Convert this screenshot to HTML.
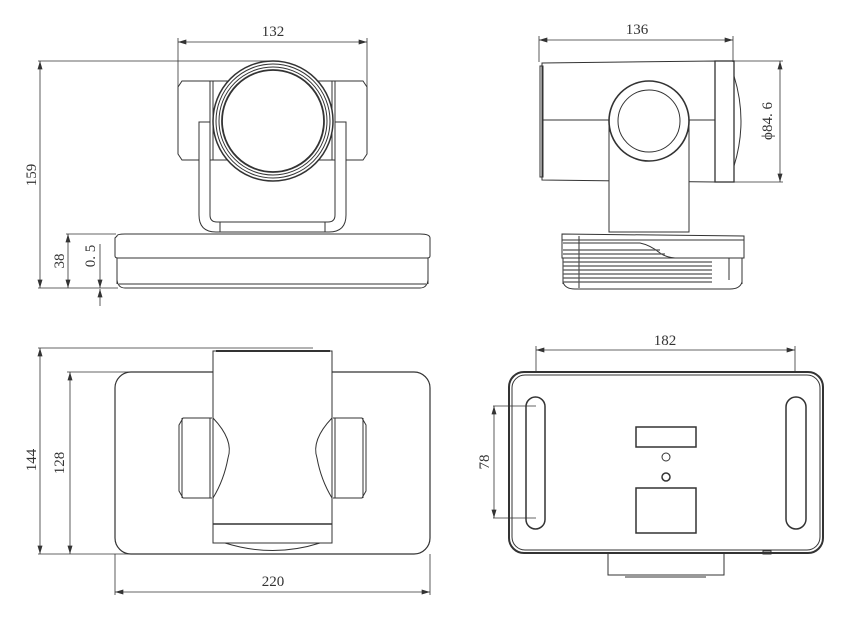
<!DOCTYPE html>
<html><head><meta charset="utf-8"><style>
html,body{margin:0;padding:0;background:#fff;}
svg{display:block;}
text{font-family:"Liberation Serif",serif;font-size:15px;fill:#333;}
</style></head><body>
<svg width="860" height="620" viewBox="0 0 860 620" xmlns="http://www.w3.org/2000/svg">
<defs>
<marker id="a" viewBox="0 0 10 6" refX="10" refY="3" markerWidth="9" markerHeight="5" orient="auto-start-reverse" markerUnits="userSpaceOnUse"><path d="M0,0 L10,3 L0,6 z" fill="#333"/></marker>
</defs>
<g fill="none" stroke="#333" stroke-width="1">
<!-- ===== TOP LEFT: front view ===== -->
<line x1="178" y1="38" x2="178" y2="150" stroke-width="0.8"/>
<line x1="367" y1="38" x2="367" y2="90" stroke-width="0.8"/>
<line x1="178" y1="42" x2="367" y2="42" stroke-width="0.8" marker-start="url(#a)" marker-end="url(#a)"/>
<line x1="38" y1="61" x2="272" y2="61" stroke-width="0.8"/>
<line x1="40" y1="61" x2="40" y2="288" stroke-width="0.8" marker-start="url(#a)" marker-end="url(#a)"/>
<line x1="38" y1="288" x2="118" y2="288" stroke-width="0.8"/>
<line x1="66" y1="234" x2="116" y2="234" stroke-width="0.8"/>
<line x1="68" y1="234" x2="68" y2="288" stroke-width="0.8" marker-start="url(#a)" marker-end="url(#a)"/>
<line x1="100" y1="244" x2="100" y2="288" stroke-width="0.8" marker-end="url(#a)"/>
<line x1="100" y1="306" x2="100" y2="289" stroke-width="0.8" marker-end="url(#a)"/>
<!-- side blocks -->
<path d="M182,81 L210,81 L210,160 L182,160 L178,154 L178,87 Z"/>
<path d="M363,81 L335,81 L335,160 L363,160 L367,154 L367,87 Z"/>
<rect x="210" y="81" width="125" height="79"/>
<line x1="213" y1="81" x2="213" y2="160"/>
<line x1="332" y1="81" x2="332" y2="160"/>
<!-- bracket -->
<path d="M199,122 L210,122 L210,215 Q210,222 217,222 L328,222 Q335,222 335,215 L335,122 L346,122 L346,215 Q346,232 329,232 L216,232 Q199,232 199,215 Z" fill="#fff"/>
<line x1="220" y1="222" x2="220" y2="232"/>
<line x1="325" y1="222" x2="325" y2="232"/>
<!-- lens -->
<circle cx="273" cy="121" r="60" fill="#fff" stroke-width="1.5"/>
<circle cx="273" cy="121" r="57"/>
<circle cx="273" cy="121" r="54"/>
<circle cx="273" cy="121" r="51" stroke-width="1.8"/>
<!-- base -->
<path d="M117,236 Q117,234 125,234 L420,234 Q430,234 430,238 L430,256 Q430,258 427,258 L118,258 Q115,258 115,256 L115,238 Z"/>
<line x1="117" y1="258" x2="117" y2="284"/>
<line x1="428" y1="258" x2="428" y2="284"/>
<path d="M117,280 Q118,288 125,288 L420,288 Q427,288 428,280"/>
<line x1="119" y1="284" x2="426" y2="284"/>
<!-- ===== TOP RIGHT: side view ===== -->
<line x1="539" y1="36" x2="539" y2="62" stroke-width="0.8"/>
<line x1="733" y1="36" x2="733" y2="62" stroke-width="0.8"/>
<line x1="539" y1="40" x2="733" y2="40" stroke-width="0.8" marker-start="url(#a)" marker-end="url(#a)"/>
<line x1="734" y1="61" x2="783" y2="61" stroke-width="0.8"/>
<line x1="734" y1="182" x2="783" y2="182" stroke-width="0.8"/>
<line x1="780" y1="61" x2="780" y2="182" stroke-width="0.8" marker-start="url(#a)" marker-end="url(#a)"/>
<path d="M542,63 L715,61 L715,182 L542,180 Z"/>
<rect x="540" y="66" width="3" height="111"/>
<line x1="542" y1="120" x2="715" y2="120"/>
<rect x="715" y="61" width="19" height="121" stroke-width="1.3"/>
<path d="M734,76 Q748,121 734,166"/>
<rect x="609" y="120" width="80" height="112" fill="#fff"/>
<circle cx="649" cy="121" r="40" fill="#fff" stroke-width="1.6"/>
<circle cx="649" cy="121" r="31"/>
<!-- base -->
<path d="M562,234 L744,236 L744,258 L562,258 Z"/>
<line x1="562" y1="240" x2="744" y2="240"/>
<path d="M563,243 L640,243 Q650,245 660,253 Q665,257 675,258"/>
<line x1="563" y1="258" x2="563" y2="284"/>
<line x1="742" y1="258" x2="742" y2="284"/>
<line x1="729" y1="258" x2="729" y2="280"/>
<line x1="579" y1="236" x2="579" y2="288"/>
<path d="M563,282 Q565,289 575,289 L730,289 Q740,289 742,282"/>
<g stroke="#555" stroke-width="1.2">
<line x1="563" y1="250" x2="660" y2="250"/><line x1="563" y1="254" x2="665" y2="254"/>
<line x1="563" y1="262" x2="712" y2="262"/><line x1="563" y1="266" x2="712" y2="266"/>
<line x1="563" y1="270" x2="712" y2="270"/><line x1="563" y1="274" x2="712" y2="274"/>
<line x1="563" y1="278" x2="712" y2="278"/><line x1="563" y1="282" x2="712" y2="282"/>
</g>
<!-- ===== BOTTOM LEFT: top view ===== -->
<line x1="38" y1="348" x2="313" y2="348" stroke-width="0.8"/>
<line x1="40" y1="348" x2="40" y2="554" stroke-width="0.8" marker-start="url(#a)" marker-end="url(#a)"/>
<line x1="38" y1="554" x2="145" y2="554" stroke-width="0.8"/>
<line x1="67" y1="372" x2="213" y2="372" stroke-width="0.8"/>
<line x1="70" y1="372" x2="70" y2="554" stroke-width="0.8" marker-start="url(#a)" marker-end="url(#a)"/>
<line x1="115" y1="554" x2="115" y2="595" stroke-width="0.8"/>
<line x1="430" y1="554" x2="430" y2="595" stroke-width="0.8"/>
<line x1="115" y1="592" x2="430" y2="592" stroke-width="0.8" marker-start="url(#a)" marker-end="url(#a)"/>
<rect x="115" y="372" width="315" height="182" rx="16" fill="#fff" stroke-width="1.2"/>
<rect x="213" y="351" width="119" height="192" fill="#fff"/>
<line x1="216" y1="351" x2="330" y2="351" stroke-width="2"/>
<line x1="213" y1="524" x2="332" y2="524" stroke-width="1.5"/>
<path d="M225,543 Q273,558 320,543"/>
<path d="M212,418 L183,418 L179,425 L179,491 L183,498 L212,498"/>
<line x1="182" y1="418" x2="182" y2="498"/>
<line x1="210" y1="418" x2="210" y2="498"/>
<path d="M213,418 Q234,440 228,458 Q224,480 213,498"/>
<path d="M333,418 L362,418 L366,425 L366,491 L362,498 L333,498"/>
<line x1="363" y1="418" x2="363" y2="498"/>
<line x1="335" y1="418" x2="335" y2="498"/>
<path d="M332,418 Q311,440 317,458 Q321,480 332,498"/>
<!-- ===== BOTTOM RIGHT: bottom view ===== -->
<line x1="536" y1="346" x2="536" y2="408" stroke-width="0.8"/>
<line x1="795" y1="346" x2="795" y2="408" stroke-width="0.8"/>
<line x1="536" y1="350" x2="795" y2="350" stroke-width="0.8" marker-start="url(#a)" marker-end="url(#a)"/>
<rect x="608" y="553" width="116" height="22"/>
<line x1="625" y1="577" x2="706" y2="577"/>
<rect x="509" y="372" width="314" height="181" rx="15" fill="#fff" stroke-width="2"/>
<rect x="512" y="375" width="308" height="175" rx="13"/>
<rect x="526" y="397" width="19" height="132" rx="9.5" stroke-width="1.5"/>
<rect x="786" y="397" width="20" height="132" rx="10" stroke-width="1.5"/>
<line x1="493" y1="406" x2="536" y2="406" stroke-width="0.8"/>
<line x1="493" y1="518" x2="536" y2="518" stroke-width="0.8"/>
<line x1="494" y1="406" x2="494" y2="518" stroke-width="0.8" marker-start="url(#a)" marker-end="url(#a)"/>
<rect x="636" y="427" width="60" height="20" stroke-width="1.5"/>
<circle cx="666" cy="457" r="4"/>
<circle cx="666" cy="477" r="4" stroke-width="1.5"/>
<rect x="636" y="488" width="60" height="45" stroke-width="1.5"/>
<rect x="763" y="551" width="8" height="3"/>
</g>
<!-- labels -->
<text x="273" y="36" text-anchor="middle">132</text>
<text x="637" y="34" text-anchor="middle">136</text>
<text transform="translate(36,175) rotate(-90)" text-anchor="middle">159</text>
<text transform="translate(64,261) rotate(-90)" text-anchor="middle">38</text>
<text transform="translate(95,256) rotate(-90)" text-anchor="middle">0. 5</text>
<text transform="translate(772,121) rotate(-90)" text-anchor="middle">ϕ84. 6</text>
<text transform="translate(36,460) rotate(-90)" text-anchor="middle">144</text>
<text transform="translate(64,463) rotate(-90)" text-anchor="middle">128</text>
<text x="273" y="586" text-anchor="middle">220</text>
<text x="665" y="345" text-anchor="middle">182</text>
<text transform="translate(489,462) rotate(-90)" text-anchor="middle">78</text>
</svg>
</body></html>
